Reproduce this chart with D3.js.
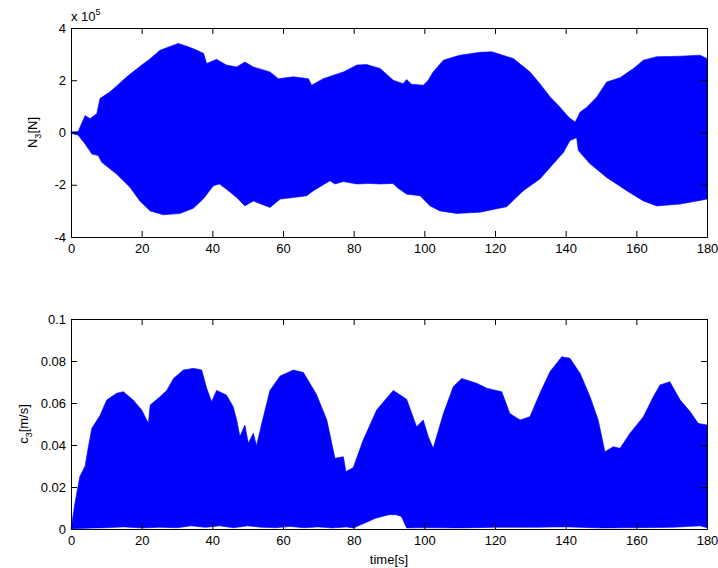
<!DOCTYPE html>
<html>
<head>
<meta charset="utf-8">
<script src="https://cdn.jsdelivr.net/npm/d3@7"></script>
<style>
  body { margin: 0; background: #fff; }
  svg { display: block; font-family: "Liberation Sans", Arial, sans-serif; }
  .axis text { font-size: 13px; fill: #000; }
  .axis path, .axis line { stroke: #000; }
  .label { font-size: 13px; fill: #000; }
</style>
</head>
<body>
<svg width="718" height="568"></svg>
<script>
// N3 envelope (x 1e5 N): [time, value]
const nUpper = [
  [0, 0.03], [2, 0.03], [4, 0.65], [5.4, 0.53], [7.3, 0.72], [8.2, 1.3], [11, 1.55],
  [15.8, 2.13], [20, 2.58], [21.9, 2.77], [25.2, 3.15], [30.4, 3.41], [33.2, 3.28],
  [35.6, 3.15], [37.5, 3.03], [38.4, 2.64], [41.2, 2.8], [44, 2.58], [46.9, 2.51],
  [49.2, 2.7], [51.6, 2.51], [56.3, 2.32], [58.7, 2.06], [62.9, 2.13], [67.2, 2.06],
  [68.1, 1.81], [71.4, 2.06], [77.1, 2.32], [80.9, 2.58], [83.7, 2.6], [87.5, 2.45],
  [91.2, 2.0], [94, 1.87], [95, 2.03], [96.4, 1.85], [99.7, 1.81], [101.1, 2.0],
  [102.5, 2.32], [105.4, 2.77], [110.1, 2.96], [115.8, 3.07], [119.1, 3.09],
  [125.2, 2.83], [129.9, 2.32], [132.7, 1.87], [135.6, 1.36], [138.4, 0.97],
  [140.8, 0.59], [142.7, 0.4], [144.1, 0.78], [146, 0.97], [148.8, 1.36], [151.6, 1.93],
  [155.4, 2.1], [159.2, 2.45], [162, 2.77], [165.8, 2.9], [172.4, 2.92], [178, 2.96],
  [180, 2.83]
];
const nLower = [
  [0, -0.03], [2, -0.1], [4, -0.44], [5.9, -0.82], [7.7, -0.88], [8.7, -1.14],
  [12.9, -1.59], [16.7, -2.1], [19.5, -2.62], [22.4, -3.0], [26.1, -3.15], [30.8, -3.1],
  [34.6, -2.9], [37.4, -2.55], [40.3, -2.04], [42, -1.97], [44, -2.17], [46.9, -2.49],
  [49.2, -2.81], [51.6, -2.62], [56.3, -2.87], [59.2, -2.55], [62.9, -2.49],
  [66.7, -2.42], [68.6, -2.23], [73.3, -1.85], [74.7, -1.97], [77.1, -1.88],
  [80.9, -1.97], [84.6, -1.95], [87.5, -1.97], [91.2, -1.95], [92.2, -2.1], [95, -2.36],
  [98.8, -2.42], [101.6, -2.81], [104.4, -3.0], [109.2, -3.1], [115.8, -3.05],
  [123.3, -2.84], [128, -2.23], [132.7, -1.78], [136.5, -1.2], [139.4, -0.76],
  [141.2, -0.31], [143.1, -0.2], [143.6, -0.69], [146.9, -1.2], [151.6, -1.72],
  [157.3, -2.23], [162, -2.62], [165.8, -2.81], [172.4, -2.74], [180, -2.55]
];

// c3 envelope (m/s): [time, value]
const cUpper = [
  [0, 0], [1.1, 0.0122], [2.5, 0.025], [4, 0.03], [4.9, 0.039], [5.9, 0.048],
  [8.2, 0.054], [10.1, 0.0614], [12.9, 0.0646], [14.8, 0.0654], [17.6, 0.0614],
  [20, 0.0567], [21.9, 0.0503], [22.4, 0.059], [25.2, 0.063], [27.1, 0.066],
  [29, 0.0717], [31.8, 0.0757], [34.6, 0.0765], [37, 0.0757], [38.4, 0.067],
  [39.8, 0.0606], [41.2, 0.066], [44, 0.0638], [45.9, 0.0582], [46.9, 0.0519],
  [47.8, 0.044], [49.2, 0.0495], [50.2, 0.0408], [51.6, 0.0456], [52.5, 0.0397],
  [54, 0.0503], [56.3, 0.066], [59.2, 0.0729], [62.9, 0.0757], [65.8, 0.0745],
  [69.5, 0.064], [72.4, 0.0519], [74.7, 0.0337], [77.1, 0.0344], [77.8, 0.0273],
  [79.9, 0.0293], [82.7, 0.0424], [86.5, 0.0567], [91.2, 0.066], [95, 0.0618],
  [97.8, 0.0487], [99.7, 0.0519], [101.1, 0.044], [102.5, 0.0384], [105.4, 0.055],
  [108.2, 0.0678], [110.6, 0.0717], [114.8, 0.0694], [117.7, 0.067], [121.9, 0.0654],
  [124.2, 0.055], [127.1, 0.0519], [129.9, 0.0535], [132.7, 0.0646], [135.6, 0.075],
  [138.9, 0.082], [141.2, 0.0813], [144.1, 0.0741], [146.9, 0.063], [149.2, 0.0519],
  [151.1, 0.0368], [153.5, 0.0392], [155.4, 0.0384], [158.2, 0.0456], [162, 0.0535],
  [164.8, 0.063], [166.7, 0.0686], [169.5, 0.0701], [172.4, 0.0614], [175.2, 0.0559],
  [177.5, 0.0503], [180, 0.0495]
];
const cLower = [
  [0, 0], [5, 0.0004], [10, 0.0006], [15, 0.001], [20, 0.0005], [25, 0.0008],
  [30, 0.0006], [34, 0.0015], [38, 0.0008], [42, 0.0015], [46, 0.0006], [50, 0.0015],
  [54, 0.0008], [58, 0.0006], [62, 0.0012], [66, 0.0006], [70, 0.001], [74, 0.0005],
  [78, 0.001], [80, 0.0005], [82, 0.002], [84, 0.0035], [86, 0.005], [88, 0.006],
  [90, 0.0068], [92, 0.0068], [93.5, 0.006], [95, 0.0005], [100, 0.0006], [110, 0.0005],
  [120, 0.0008], [130, 0.0008], [140, 0.001], [150, 0.0005], [160, 0.0006],
  [170, 0.0008], [178, 0.0015], [180, 0.0006]
];

const xTicks = [0, 20, 40, 60, 80, 100, 120, 140, 160, 180];
const nTicks = [-4, -2, 0, 2, 4];
const cTicks = [0, 0.02, 0.04, 0.06, 0.08, 0.1];

const svg = d3.select('svg');
const blue = '#0000ff';

const x = d3.scaleLinear().domain([0, 180]).range([71, 707]);
const yN = d3.scaleLinear().domain([-4, 4]).range([237, 28]);
const yC = d3.scaleLinear().domain([0, 0.1]).range([529, 319]);

// pair upper and lower by time for the band
function band(upper, lower) {
  const lo = d3.scaleLinear().domain(lower.map(d => d[0])).range(lower.map(d => d[1]));
  const hi = d3.scaleLinear().domain(upper.map(d => d[0])).range(upper.map(d => d[1]));
  const ts = Array.from(new Set(upper.map(d => d[0]).concat(lower.map(d => d[0])))).sort((a, b) => a - b);
  return ts.map(t => ({ t: t, hi: hi(t), lo: lo(t) }));
}

function panel(y, upper, lower, yTicks, yFmt) {
  const area = d3.area()
    .x(d => x(d.t))
    .y0(d => y(d.lo))
    .y1(d => y(d.hi));

  svg.append('path')
    .datum(band(upper, lower))
    .attr('d', area)
    .attr('fill', blue)
    .attr('stroke', blue)
    .attr('stroke-width', 0.6);

  const [yb, yt] = y.range();
  const tk = 6;

  svg.append('g')
    .attr('class', 'axis')
    .attr('transform', `translate(0, ${yb})`)
    .call(d3.axisBottom(x).tickValues(xTicks).tickSizeInner(-tk).tickSizeOuter(0).tickPadding(7));

  svg.append('g')
    .attr('class', 'axis')
    .attr('transform', `translate(0, ${yt})`)
    .call(d3.axisTop(x).tickValues(xTicks).tickSizeInner(-tk).tickSizeOuter(0).tickFormat(''));

  svg.append('g')
    .attr('class', 'axis')
    .attr('transform', `translate(${x(0)}, 0)`)
    .call(d3.axisLeft(y).tickValues(yTicks).tickSizeInner(-tk).tickSizeOuter(0).tickPadding(5).tickFormat(yFmt));

  svg.append('g')
    .attr('class', 'axis')
    .attr('transform', `translate(${x(180)}, 0)`)
    .call(d3.axisRight(y).tickValues(yTicks).tickSizeInner(-tk).tickSizeOuter(0).tickFormat(''));
}

panel(yN, nUpper, nLower, nTicks, d => String(d));
panel(yC, cUpper, cLower, cTicks, d => String(d));

// exponent label
const ex = svg.append('text')
  .attr('class', 'label')
  .attr('x', 71)
  .attr('y', 21);
ex.append('tspan').text('x 10');
ex.append('tspan').attr('dy', -6).attr('font-size', '9px').text('5');

// y labels
const yl1 = svg.append('text')
  .attr('class', 'label')
  .attr('transform', `translate(37, ${(yN.range()[0] + yN.range()[1]) / 2}) rotate(-90)`)
  .attr('text-anchor', 'middle');
yl1.append('tspan').text('N');
yl1.append('tspan').attr('dy', 4).attr('font-size', '9px').text('3');
yl1.append('tspan').attr('dy', -4).text('[N]');

const yl2 = svg.append('text')
  .attr('class', 'label')
  .attr('transform', `translate(28, ${(yC.range()[0] + yC.range()[1]) / 2}) rotate(-90)`)
  .attr('text-anchor', 'middle');
yl2.append('tspan').text('c');
yl2.append('tspan').attr('dy', 4).attr('font-size', '9px').text('3');
yl2.append('tspan').attr('dy', -4).text('[m/s]');

svg.append('text')
  .attr('class', 'label')
  .attr('x', x(90))
  .attr('y', 564)
  .attr('text-anchor', 'middle')
  .text('time[s]');
</script>
</body>
</html>
